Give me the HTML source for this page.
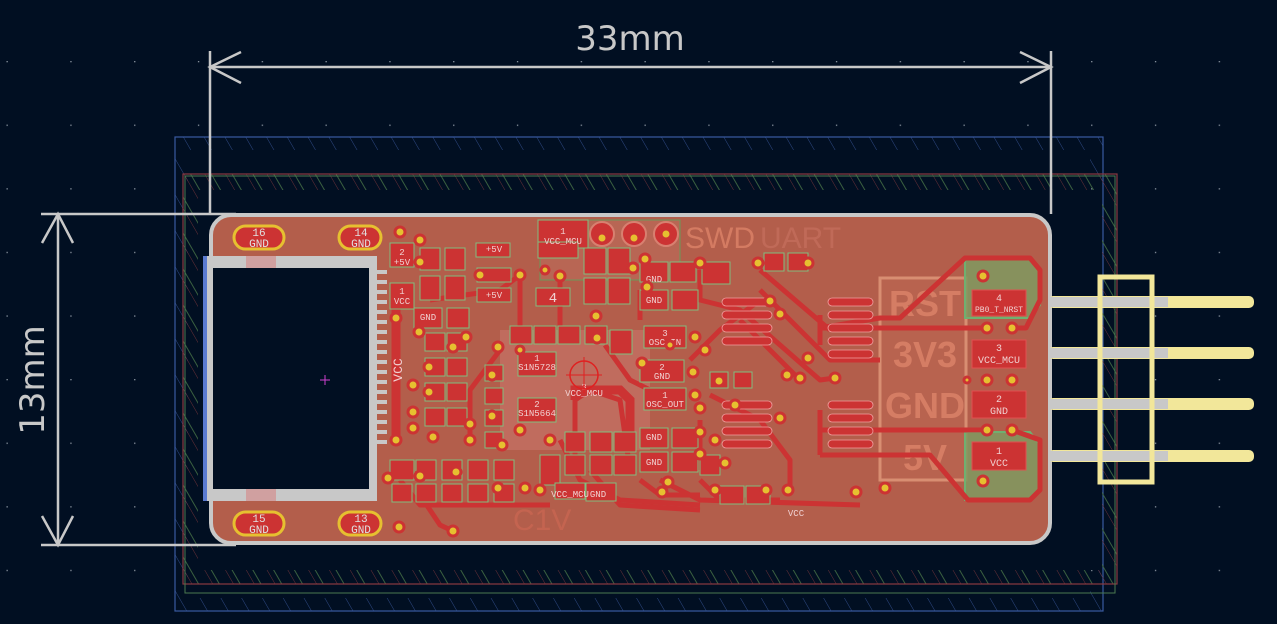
<!DOCTYPE html>
<html><head><meta charset="utf-8"><style>
html,body{margin:0;padding:0;background:#010f22;}
svg{display:block;font-family:"Liberation Mono","DejaVu Sans Mono",monospace;}
</style></head><body>
<svg width="1277" height="624" viewBox="0 0 1277 624" xmlns="http://www.w3.org/2000/svg">
<defs>
<pattern id="grid" x="6.5" y="61" width="63.8" height="63.6" patternUnits="userSpaceOnUse"><rect width="1.3" height="1.3" fill="#8a94a0"/></pattern>
<pattern id="hb" width="18" height="18" patternUnits="userSpaceOnUse" patternTransform="rotate(-30)"><line x1="0" y1="0" x2="0" y2="18" stroke="#2f4a85" stroke-width="1"/></pattern>
<pattern id="hr" width="18" height="18" patternUnits="userSpaceOnUse" patternTransform="rotate(-30)"><line x1="0" y1="0" x2="0" y2="18" stroke="#6a3038" stroke-width="1"/><line x1="6" y1="0" x2="6" y2="18" stroke="#3a6040" stroke-width="1"/></pattern>
</defs>
<rect width="1277" height="624" fill="#010f22"/>
<rect width="1277" height="624" fill="url(#grid)"/>
<rect x="175" y="137" width="928" height="474" fill="url(#hb)" stroke="#3a5aa0" stroke-width="1.2"/>
<rect x="188" y="150" width="902" height="448" fill="#010f22"/>
<rect x="183" y="174" width="934" height="410" fill="url(#hr)" stroke="#8a3a40" stroke-width="1.2"/>
<rect x="185" y="176" width="930" height="417" fill="none" stroke="#4a7a50" stroke-width="1"/>
<rect x="198" y="190" width="904" height="380" fill="#010f22"/>

<g stroke="#c8c8c8" stroke-width="2.5" fill="none">
<line x1="210" y1="51" x2="210" y2="214"/><line x1="1051" y1="51" x2="1051" y2="214"/>
<line x1="210" y1="67" x2="1051" y2="67"/>
<polyline points="241,52 210,67 241,83"/><polyline points="1020,52 1051,67 1020,83"/>
<line x1="41" y1="214" x2="236" y2="214"/><line x1="41" y1="545" x2="236" y2="545"/>
<line x1="58" y1="214" x2="58" y2="545"/>
<polyline points="42,243 58,214 73,243"/><polyline points="42,516 58,545 73,516"/>
</g>
<text x="630" y="50" font-family="DejaVu Sans,Liberation Sans,sans-serif" font-size="34" fill="#c8c8c8" text-anchor="middle">33mm</text>
<text transform="translate(44,380) rotate(-90)" font-family="DejaVu Sans,Liberation Sans,sans-serif" font-size="34" fill="#c8c8c8" text-anchor="middle">13mm</text>

<rect x="211" y="215" width="839" height="328" rx="20" fill="#b35e4b" stroke="#c8c8c8" stroke-width="4"/>
<rect x="500" y="330" width="150" height="120" fill="#c06c5e"/>
<rect x="540" y="220" width="140" height="60" fill="#b86654" stroke="#6a9a5a" stroke-width="1"/>
<text x="685" y="248" font-family="Liberation Sans,sans-serif" font-size="30" fill="#d47b62">SWD</text>
<text x="760" y="248" font-family="Liberation Sans,sans-serif" font-size="30" fill="#c06a58">UART</text>
<text x="513" y="530" font-family="Liberation Sans,sans-serif" font-size="30" fill="#c46450">C1V</text>

<rect x="880" y="278" width="86" height="202" fill="#b8634f" stroke="#d88e72" stroke-width="3"/>
<g font-family="Liberation Sans,sans-serif" font-weight="bold" font-size="36" fill="#d57d64" text-anchor="middle">
<text x="925" y="316">RST</text><text x="925" y="367">3V3</text><text x="925" y="418">GND</text><text x="925" y="470">5V</text>
</g>
<path d="M965,258 L1028,258 L1040,272 L1040,305 L1030,318 L965,318 Z" fill="#7f9a60" fill-opacity="0.85" stroke="#6fb070" stroke-width="2"/>
<path d="M965,432 L1030,432 L1040,445 L1040,490 L1028,500 L965,500 Z" fill="#7f9a60" fill-opacity="0.85" stroke="#6fb070" stroke-width="2"/>
<g>
<rect x="1048" y="296" width="206" height="12" rx="5" fill="#f2e79a"/>
<rect x="1048" y="347" width="206" height="12" rx="5" fill="#f2e79a"/>
<rect x="1048" y="398" width="206" height="12" rx="5" fill="#f2e79a"/>
<rect x="1048" y="450" width="206" height="12" rx="5" fill="#f2e79a"/>
<rect x="1048" y="297" width="120" height="10" fill="#c8c8c8"/>
<rect x="1048" y="348" width="120" height="10" fill="#c8c8c8"/>
<rect x="1048" y="399" width="120" height="10" fill="#c8c8c8"/>
<rect x="1048" y="451" width="120" height="10" fill="#c8c8c8"/>
<rect x="1100" y="277" width="52" height="205" fill="none" stroke="#f2e79a" stroke-width="5"/>
</g>
<g fill="#cc3333" stroke="#e05050" stroke-width="1">
<rect x="972" y="290" width="54" height="26"/><rect x="972" y="340" width="54" height="28"/>
<rect x="972" y="391" width="54" height="27"/><rect x="972" y="442" width="54" height="28"/>
</g>
<g font-size="10" fill="#f0d0d0" text-anchor="middle">
<text x="999" y="301">4</text><text x="999" y="312" font-size="8">PB0_T_NRST</text>
<text x="999" y="351">3</text><text x="999" y="363">VCC_MCU</text>
<text x="999" y="402">2</text><text x="999" y="414">GND</text>
<text x="999" y="454">1</text><text x="999" y="466">VCC</text>
</g>
<g stroke="#cc3333" stroke-width="5" fill="none" stroke-linejoin="round">
<polyline points="820,328 880,318 900,318 965,258 1030,258 1040,270 1040,300 1026,328 1012,328"/>
<polyline points="820,328 985,328"/>
<polyline points="820,430 985,430"/>
<polyline points="820,455 930,455 968,500 1030,500 1040,490 1040,440 1012,430"/>
<polyline points="560,440 580,480 620,500 700,505"/>
<polyline points="590,390 575,400 575,470"/>
<polyline points="590,390 620,400 630,470"/>
<polyline points="420,495 440,525 455,532"/>
<polyline points="700,480 720,500 780,500"/>
<polyline points="690,360 720,330 760,300"/>
<polyline points="740,320 800,380"/>
<polyline points="500,350 470,390 470,440"/>
<polyline points="430,300 500,290 520,275"/>
<polyline points="660,480 700,500 860,505"/>
<polyline points="520,275 520,330"/><polyline points="560,276 560,330"/>
<polyline points="640,290 640,320"/><polyline points="700,270 700,300 740,310 820,380 835,378"/>
<polyline points="760,290 830,360 880,360"/>
<polyline points="710,395 760,420 790,460 790,490"/>
<polyline points="590,470 620,505 700,510"/>
<polyline points="400,480 420,505 550,505"/>
<polyline points="640,480 660,495 700,495"/>
<polyline points="760,270 830,330"/>
<polyline points="605,345 630,380 650,390"/>
<polyline points="700,420 700,470"/>
<polyline points="820,315 820,345"/><polyline points="820,410 820,455"/>
</g>
<g stroke="#cc3333" stroke-width="9" fill="none"><line x1="396" y1="290" x2="396" y2="435"/><polyline points="575,400 575,390 620,390 630,400 630,440"/></g>
<g fill="#cc3333" stroke="#f0a0a0" stroke-width="0.8">
<rect x="722" y="298" width="50" height="8" rx="4"/><rect x="722" y="311" width="50" height="8" rx="4"/><rect x="722" y="324" width="50" height="8" rx="4"/><rect x="722" y="337" width="50" height="8" rx="4"/>
<rect x="722" y="401" width="50" height="8" rx="4"/><rect x="722" y="414" width="50" height="8" rx="4"/><rect x="722" y="427" width="50" height="8" rx="4"/><rect x="722" y="440" width="50" height="8" rx="4"/>
<rect x="828" y="298" width="45" height="8" rx="4"/><rect x="828" y="311" width="45" height="8" rx="4"/><rect x="828" y="324" width="45" height="8" rx="4"/><rect x="828" y="337" width="45" height="8" rx="4"/><rect x="828" y="350" width="45" height="8" rx="4"/>
<rect x="828" y="401" width="45" height="8" rx="4"/><rect x="828" y="414" width="45" height="8" rx="4"/><rect x="828" y="427" width="45" height="8" rx="4"/><rect x="828" y="440" width="45" height="8" rx="4"/>
</g>
<g fill="#cc3333" stroke="#7fbf7f" stroke-width="1">
<rect x="390" y="243" width="24" height="24"/><rect x="420" y="248" width="20" height="22"/><rect x="445" y="248" width="20" height="22"/><rect x="476" y="243" width="34" height="14"/>
<rect x="420" y="276" width="20" height="24"/><rect x="445" y="276" width="20" height="24"/><rect x="477" y="268" width="34" height="14"/><rect x="477" y="288" width="34" height="14"/>
<rect x="390" y="283" width="24" height="26"/><rect x="414" y="308" width="28" height="20"/><rect x="447" y="308" width="22" height="20"/>
<rect x="425" y="333" width="20" height="18"/><rect x="447" y="333" width="20" height="18"/>
<rect x="425" y="358" width="20" height="18"/><rect x="447" y="358" width="20" height="18"/>
<rect x="425" y="383" width="20" height="18"/><rect x="447" y="383" width="20" height="18"/>
<rect x="425" y="408" width="20" height="18"/><rect x="447" y="408" width="20" height="18"/>
<rect x="485" y="365" width="18" height="16"/><rect x="485" y="388" width="18" height="16"/><rect x="485" y="410" width="18" height="16"/><rect x="485" y="432" width="18" height="16"/>
<rect x="390" y="460" width="24" height="20"/><rect x="416" y="460" width="20" height="20"/><rect x="442" y="460" width="20" height="20"/><rect x="468" y="460" width="20" height="20"/><rect x="494" y="460" width="20" height="20"/>
<rect x="392" y="484" width="20" height="18"/><rect x="416" y="484" width="20" height="18"/><rect x="442" y="484" width="20" height="18"/><rect x="468" y="484" width="20" height="18"/><rect x="494" y="484" width="20" height="18"/>
<rect x="538" y="220" width="50" height="28"/><rect x="538" y="242" width="40" height="16"/>
<rect x="584" y="248" width="22" height="26"/><rect x="608" y="248" width="22" height="26"/>
<rect x="584" y="278" width="22" height="26"/><rect x="608" y="278" width="22" height="26"/>
<rect x="536" y="288" width="34" height="18"/>
<rect x="510" y="326" width="22" height="18"/><rect x="534" y="326" width="22" height="18"/><rect x="558" y="326" width="22" height="18"/><rect x="585" y="326" width="22" height="18"/>
<rect x="518" y="352" width="38" height="24"/><rect x="518" y="398" width="38" height="24"/>
<rect x="610" y="330" width="22" height="24"/>
<rect x="640" y="262" width="28" height="20"/><rect x="670" y="262" width="26" height="20"/><rect x="702" y="262" width="28" height="22"/>
<rect x="640" y="290" width="28" height="20"/><rect x="672" y="290" width="26" height="20"/>
<rect x="644" y="326" width="42" height="22"/><rect x="640" y="360" width="44" height="22"/><rect x="644" y="388" width="42" height="22"/>
<rect x="640" y="428" width="28" height="20"/><rect x="672" y="428" width="26" height="20"/><rect x="640" y="452" width="28" height="20"/><rect x="672" y="452" width="26" height="20"/>
<rect x="565" y="432" width="20" height="20"/><rect x="590" y="432" width="22" height="20"/><rect x="614" y="432" width="22" height="20"/>
<rect x="565" y="455" width="20" height="20"/><rect x="590" y="455" width="22" height="20"/><rect x="614" y="455" width="22" height="20"/>
<rect x="540" y="455" width="20" height="30"/><rect x="555" y="483" width="30" height="16"/><rect x="586" y="483" width="30" height="18"/>
<rect x="710" y="372" width="18" height="16"/><rect x="734" y="372" width="18" height="16"/>
<rect x="720" y="486" width="24" height="18"/><rect x="746" y="486" width="24" height="18"/>
<rect x="764" y="253" width="20" height="18"/><rect x="788" y="253" width="20" height="18"/>
<rect x="700" y="455" width="20" height="20"/>
</g>
<g font-size="9" fill="#f0d0d0" text-anchor="middle">
<text x="402" y="255">2</text><text x="402" y="265">+5V</text><text x="402" y="294">1</text><text x="402" y="304">VCC</text>
<text x="494" y="252">+5V</text><text x="494" y="298">+5V</text><text x="428" y="320">GND</text>
<text x="563" y="234">1</text><text x="563" y="244">VCC_MCU</text>
<text x="553" y="302" font-size="14">4</text>
<text x="537" y="361">1</text><text x="537" y="370">S1N5728</text>
<text x="537" y="407">2</text><text x="537" y="416">S1N5664</text>
<text x="665" y="336">3</text><text x="665" y="345">OSC_IN</text>
<text x="662" y="370">2</text><text x="662" y="379">GND</text>
<text x="665" y="398">1</text><text x="665" y="407">OSC_OUT</text>
<text x="654" y="282">GND</text><text x="654" y="303">GND</text><text x="654" y="440">GND</text><text x="654" y="465">GND</text>
<text x="584" y="390">3</text><text x="584" y="396">VCC_MCU</text>
<text x="598" y="497">GND</text><text x="570" y="497">VCC_MCU</text>
<text x="796" y="516">VCC</text>
</g>
<rect x="203" y="256" width="174" height="245" fill="#c8c8c8"/>
<rect x="213" y="268" width="156" height="221" fill="#010f22"/>
<rect x="246" y="256" width="30" height="12" fill="#d0a0a0"/><rect x="246" y="489" width="30" height="12" fill="#d0a0a0"/>
<g fill="#c8c8c8"><rect x="375" y="270" width="12" height="4"/><rect x="375" y="280" width="12" height="4"/><rect x="375" y="290" width="12" height="4"/><rect x="375" y="300" width="12" height="4"/><rect x="375" y="310" width="12" height="4"/><rect x="375" y="320" width="12" height="4"/><rect x="375" y="330" width="12" height="4"/><rect x="375" y="340" width="12" height="4"/><rect x="375" y="350" width="12" height="4"/><rect x="375" y="360" width="12" height="4"/><rect x="375" y="370" width="12" height="4"/><rect x="375" y="380" width="12" height="4"/><rect x="375" y="390" width="12" height="4"/><rect x="375" y="400" width="12" height="4"/><rect x="375" y="410" width="12" height="4"/><rect x="375" y="420" width="12" height="4"/><rect x="375" y="430" width="12" height="4"/><rect x="375" y="440" width="12" height="4"/></g>
<rect x="203" y="256" width="4" height="245" fill="#5a7ad0"/>
<g stroke="#d040d0" stroke-width="1"><line x1="320" y1="380" x2="330" y2="380"/><line x1="325" y1="375" x2="325" y2="385"/></g>
<text x="402" y="370" font-size="13" fill="#f0d0d0" transform="rotate(-90 402 370)" text-anchor="middle">VCC</text>
<g fill="#cc3333" stroke="#e6c030" stroke-width="3">
<rect x="234" y="226" width="50" height="23" rx="11.5"/><rect x="339" y="226" width="42" height="23" rx="11.5"/>
<rect x="234" y="512" width="50" height="23" rx="11.5"/><rect x="339" y="512" width="42" height="23" rx="11.5"/>
</g>
<g font-size="11" fill="#e0e0e0" text-anchor="middle">
<text x="259" y="236">16</text><text x="259" y="247">GND</text><text x="361" y="236">14</text><text x="361" y="247">GND</text>
<text x="259" y="522">15</text><text x="259" y="533">GND</text><text x="361" y="522">13</text><text x="361" y="533">GND</text>
</g>
<g fill="#cc3333" stroke="#d88070" stroke-width="2"><circle cx="602" cy="234" r="12"/><circle cx="634" cy="234" r="12"/><circle cx="666" cy="234" r="12"/></g>
<g fill="#e6c030" stroke="#cc3333" stroke-width="3">
<circle cx="400" cy="232" r="5"/><circle cx="420" cy="240" r="5"/><circle cx="420" cy="262" r="5"/><circle cx="480" cy="275" r="5"/><circle cx="520" cy="275" r="5"/><circle cx="545" cy="270" r="4"/><circle cx="560" cy="276" r="5"/>
<circle cx="396" cy="318" r="5"/><circle cx="396" cy="440" r="5"/><circle cx="419" cy="332" r="5"/><circle cx="453" cy="347" r="5"/><circle cx="466" cy="337" r="5"/><circle cx="498" cy="347" r="5"/>
<circle cx="429" cy="367" r="5"/><circle cx="413" cy="385" r="5"/><circle cx="429" cy="392" r="5"/><circle cx="413" cy="412" r="5"/><circle cx="413" cy="428" r="5"/><circle cx="433" cy="437" r="5"/><circle cx="470" cy="440" r="5"/><circle cx="470" cy="424" r="5"/>
<circle cx="492" cy="416" r="5"/><circle cx="492" cy="375" r="5"/><circle cx="520" cy="430" r="5"/><circle cx="550" cy="440" r="5"/><circle cx="502" cy="445" r="5"/>
<circle cx="388" cy="478" r="5"/><circle cx="420" cy="476" r="5"/><circle cx="456" cy="472" r="5"/><circle cx="498" cy="488" r="5"/><circle cx="540" cy="490" r="5"/><circle cx="525" cy="488" r="5"/><circle cx="399" cy="527" r="5"/><circle cx="453" cy="531" r="5"/>
<circle cx="596" cy="316" r="5"/><circle cx="597" cy="338" r="5"/><circle cx="520" cy="350" r="4"/><circle cx="642" cy="363" r="5"/><circle cx="670" cy="345" r="4"/><circle cx="645" cy="259" r="5"/><circle cx="633" cy="268" r="5"/><circle cx="647" cy="287" r="5"/>
<circle cx="700" cy="263" r="5"/><circle cx="695" cy="337" r="5"/><circle cx="705" cy="350" r="5"/><circle cx="693" cy="372" r="5"/><circle cx="695" cy="395" r="5"/><circle cx="700" cy="408" r="5"/><circle cx="700" cy="432" r="5"/><circle cx="700" cy="454" r="5"/>
<circle cx="758" cy="263" r="5"/><circle cx="808" cy="263" r="5"/><circle cx="770" cy="301" r="5"/><circle cx="780" cy="314" r="5"/><circle cx="808" cy="358" r="5"/><circle cx="800" cy="378" r="5"/><circle cx="787" cy="375" r="5"/>
<circle cx="719" cy="381" r="5"/><circle cx="735" cy="405" r="5"/><circle cx="780" cy="418" r="5"/><circle cx="715" cy="440" r="5"/><circle cx="725" cy="463" r="5"/><circle cx="668" cy="482" r="5"/><circle cx="662" cy="492" r="5"/>
<circle cx="715" cy="490" r="5"/><circle cx="766" cy="490" r="5"/><circle cx="788" cy="490" r="5"/><circle cx="856" cy="492" r="5"/><circle cx="885" cy="488" r="5"/><circle cx="835" cy="378" r="5"/>
<circle cx="983" cy="276" r="5"/><circle cx="987" cy="328" r="5"/><circle cx="1012" cy="328" r="5"/><circle cx="987" cy="380" r="5"/><circle cx="1012" cy="380" r="5"/><circle cx="967" cy="380" r="3"/>
<circle cx="987" cy="430" r="5"/><circle cx="1012" cy="430" r="5"/><circle cx="983" cy="481" r="5"/>
<circle cx="602" cy="238" r="5"/><circle cx="634" cy="238" r="5"/><circle cx="666" cy="234" r="5"/>
</g>
<circle cx="584" cy="375" r="14" fill="none" stroke="#e02020" stroke-width="1.5"/>
<line x1="566" y1="375" x2="602" y2="375" stroke="#e02020" stroke-width="1"/><line x1="584" y1="357" x2="584" y2="393" stroke="#e02020" stroke-width="1"/>
</svg>
</body></html>
